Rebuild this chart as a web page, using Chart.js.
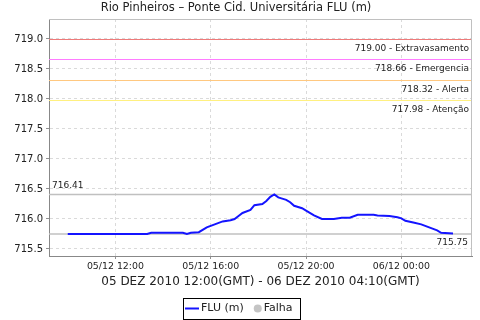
<!DOCTYPE html>
<html><head><meta charset="utf-8">
<script src="https://cdn.jsdelivr.net/npm/chart.js@4/dist/chart.umd.min.js"></script>
<style>html,body{margin:0;padding:0;background:#fff}#c{display:block}</style>
</head><body><canvas id="c" width="480" height="320"></canvas>
<script>
const chartTitle = 'Rio Pinheiros \u2013 Ponte Cid. Universit\u00e1ria FLU (m)';
const axisTitle = '05 DEZ 2010 12:00(GMT) - 06 DEZ 2010 04:10(GMT)';
const seriesName = 'FLU (m)';
const failName = 'Falha';
// minutes since 05/12 00:00 (local)
const times = [600, 800, 810, 890, 900, 910, 930, 950, 970, 990, 1010, 1020, 1030, 1040, 1060, 1070, 1090, 1100, 1110, 1120, 1130, 1140, 1150, 1160, 1170, 1190, 1200, 1220, 1240, 1270, 1290, 1310, 1330, 1370, 1380, 1410, 1430, 1440, 1450, 1470, 1490, 1510, 1530, 1540, 1570];
const levels = [715.75, 715.75, 715.77, 715.77, 715.75, 715.77, 715.78, 715.86, 715.91, 715.96, 715.98, 716.00, 716.05, 716.10, 716.15, 716.23, 716.25, 716.30, 716.37, 716.41, 716.36, 716.34, 716.32, 716.28, 716.22, 716.18, 716.14, 716.06, 716.00, 716.00, 716.02, 716.02, 716.07, 716.07, 716.06, 716.05, 716.03, 716.01, 715.97, 715.94, 715.91, 715.86, 715.81, 715.77, 715.76];
const xTickValues = [720, 960, 1200, 1440];
const xTickLabels = ['05/12 12:00', '05/12 16:00', '05/12 20:00', '06/12 00:00'];
const yTickValues = [715.5, 716.0, 716.5, 717.0, 717.5, 718.0, 718.5, 719.0];
const thresholdValues = [719.00, 718.66, 718.32, 717.98];
const thresholdNames = ['Extravasamento', 'Emergencia', 'Alerta', 'Aten\u00e7\u00e3o'];
const thresholdColors = ['#ee7a7a', '#ff7cff', '#ffc880', '#fff080'];
const maxValue = 716.41;
const minValue = 715.75;

const FONT = 'DejaVu Sans';
const TXT = '#222';

const refPlugin = {
  id: 'refs',
  beforeDatasetsDraw(chart) {
    const { ctx, chartArea: a, scales: { y } } = chart;
    ctx.save();
    ctx.font = '9px "' + FONT + '"';
    ctx.textBaseline = 'middle';
    ctx.strokeStyle = '#c0c0c0'; ctx.lineWidth = 1.5;
    [maxValue, minValue].forEach(v => {
      const py = y.getPixelForValue(v);
      ctx.beginPath(); ctx.moveTo(a.left, py); ctx.lineTo(a.right, py); ctx.stroke();
    });
    ctx.fillStyle = TXT;
    ctx.textAlign = 'left';
    ctx.fillText(maxValue.toFixed(2), a.left + 3, y.getPixelForValue(maxValue) - 9);
    ctx.textAlign = 'right';
    ctx.fillText(minValue.toFixed(2), a.right - 4, y.getPixelForValue(minValue) + 9);
    ctx.lineWidth = 1;
    thresholdValues.forEach((v, i) => {
      const py = Math.round(y.getPixelForValue(v)) + 0.5;
      ctx.strokeStyle = thresholdColors[i];
      ctx.beginPath(); ctx.moveTo(a.left, py); ctx.lineTo(a.right, py); ctx.stroke();
      ctx.fillStyle = TXT;
      ctx.textAlign = 'right';
      ctx.fillText(v.toFixed(2) + ' - ' + thresholdNames[i], a.right - 3, py + 9);
    });
    ctx.strokeStyle = '#c0c0c0'; ctx.lineWidth = 1;
    ctx.beginPath();
    ctx.moveTo(a.left, a.top + 0.5); ctx.lineTo(a.right - 0.5, a.top + 0.5); ctx.lineTo(a.right - 0.5, a.bottom);
    ctx.stroke();
    ctx.restore();
  },
  afterDraw(chart) {
    const ctx = chart.ctx;
    const ds = chart.data.datasets;
    ctx.save();
    ctx.font = '11px "' + FONT + '"';
    ctx.textBaseline = 'middle';
    ctx.textAlign = 'left';
    const w1 = ctx.measureText(ds[0].label).width;
    const w2 = ctx.measureText(ds[1].label).width;
    const total = 2 + 14 + 2 + w1 + 10 + 8 + 2 + w2 + 7;
    const x0 = Math.round(241.5 - total / 2);
    const cy = 308.5;
    ctx.strokeStyle = '#000'; ctx.lineWidth = 1;
    ctx.strokeRect(x0 + 0.5, 298.5, Math.round(total), 21);
    let x = x0 + 2;
    ctx.strokeStyle = ds[0].borderColor; ctx.lineWidth = 2;
    ctx.beginPath(); ctx.moveTo(x, cy); ctx.lineTo(x + 14, cy); ctx.stroke();
    x += 16;
    ctx.fillStyle = TXT;
    ctx.fillText(ds[0].label, x, cy);
    x += w1 + 10;
    ctx.fillStyle = ds[1].backgroundColor;
    ctx.beginPath(); ctx.arc(x + 4, cy, 4, 0, Math.PI * 2); ctx.fill();
    x += 10;
    ctx.fillStyle = TXT;
    ctx.fillText(ds[1].label, x, cy);
    ctx.restore();
  }
};

new Chart(document.getElementById('c'), {
  type: 'line',
  data: {
    datasets: [
      {
        label: seriesName,
        data: times.map((t, i) => ({ x: t, y: levels[i] })),
        borderColor: '#1414ff',
        backgroundColor: '#1414ff',
        borderWidth: 2,
        pointRadius: 0,
        tension: 0,
        fill: false
      },
      {
        label: failName,
        data: [],
        borderColor: '#c4c4c4',
        backgroundColor: '#c4c4c4',
        showLine: false
      }
    ]
  },
  options: {
    responsive: false,
    animation: false,
    devicePixelRatio: 1,
    layout: { padding: { left: 0, right: 8, top: 0, bottom: 23 } },
    plugins: {
      title: {
        display: true,
        text: chartTitle,
        color: TXT,
        font: { family: FONT, size: 11.5, weight: 'normal', lineHeight: 1.2 },
        padding: { top: 1.5, bottom: 3.7 }
      },
      legend: { display: false },
      tooltip: { enabled: false }
    },
    scales: {
      x: {
        type: 'linear',
        min: 552.8,
        max: 1617.8,
        afterBuildTicks: s => { s.ticks = xTickValues.map(v => ({ value: v })); },
        afterFit: s => { s.height = 41; },
        ticks: {
          callback: v => xTickLabels[xTickValues.indexOf(v)],
          font: { family: FONT, size: 9.4 },
          color: TXT,
          padding: 2,
          maxRotation: 0,
          autoSkip: false
        },
        grid: { color: '#dadada', tickLength: 3, tickColor: '#909090' },
        border: { color: '#888', dash: [3, 3] },
        title: {
          display: true,
          text: axisTitle,
          color: TXT,
          font: { family: FONT, size: 12, lineHeight: 1.2 },
          padding: { top: 0, bottom: 7.5 }
        }
      },
      y: {
        min: 715.3833,
        max: 719.3333,
        afterBuildTicks: s => { s.ticks = yTickValues.map(v => ({ value: v })); },
        afterFit: s => { s.width = 49; },
        ticks: {
          callback: v => Number(v).toFixed(1),
          font: { family: FONT, size: 10 },
          color: TXT,
          padding: 3
        },
        grid: { color: '#dadada', tickLength: 3, tickColor: '#909090' },
        border: { color: '#888', dash: [3, 3] }
      }
    }
  },
  plugins: [refPlugin]
});
</script>
</body></html>
